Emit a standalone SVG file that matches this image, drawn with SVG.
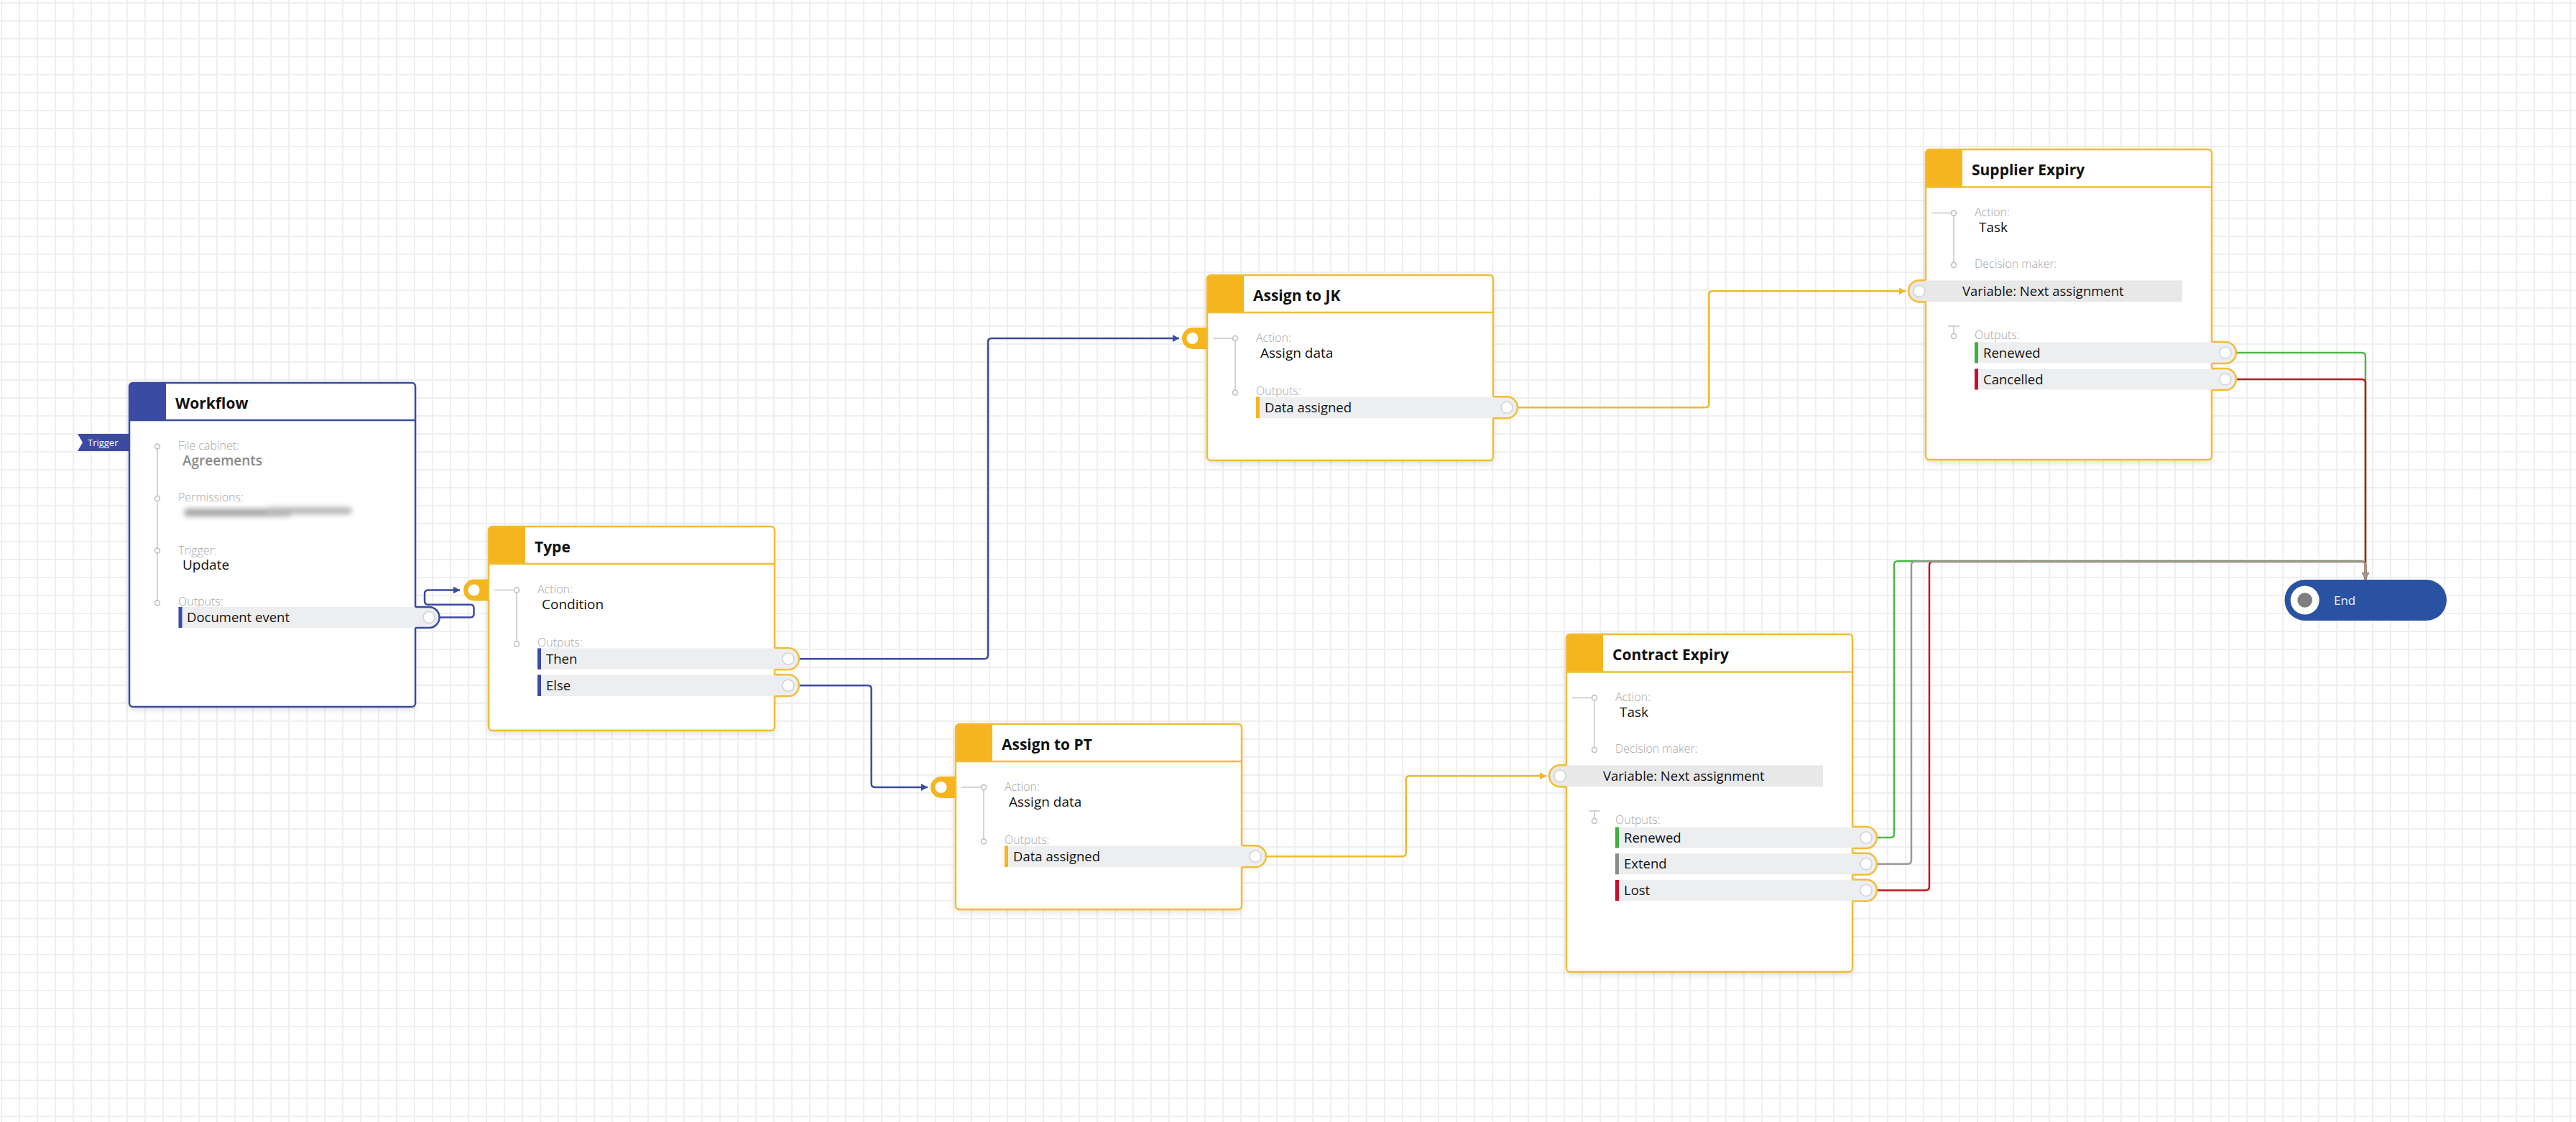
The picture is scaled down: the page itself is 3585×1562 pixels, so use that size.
<svg xmlns="http://www.w3.org/2000/svg" width="3585" height="1562" viewBox="0 0 3585 1562">
<defs>
<pattern id="grid" x="1" y="3" width="25" height="25" patternUnits="userSpaceOnUse">
<path d="M0 1H25M1 0V25" fill="none" stroke="#efefef" stroke-width="2"/>
</pattern>
<filter id="sh" x="-10%" y="-10%" width="120%" height="125%"><feDropShadow dx="0" dy="4" stdDeviation="5" flood-color="#000" flood-opacity="0.12"/></filter>
<filter id="blur" x="-20%" y="-200%" width="140%" height="500%"><feGaussianBlur stdDeviation="3.5"/></filter>
<marker id="ab" viewBox="0 0 10 10" refX="10" refY="5" markerWidth="10" markerHeight="10" markerUnits="userSpaceOnUse" orient="auto"><path d="M1,0L10,5L1,10z" fill="#3b4a9f"/></marker>
<marker id="ay" viewBox="0 0 10 10" refX="10" refY="5" markerWidth="10" markerHeight="10" markerUnits="userSpaceOnUse" orient="auto"><path d="M1,0L10,5L1,10z" fill="#f0b82d"/></marker>
<marker id="ag" viewBox="0 0 10 10" refX="10" refY="5" markerWidth="10" markerHeight="10" markerUnits="userSpaceOnUse" orient="auto"><path d="M1,0L10,5L1,10z" fill="#4cb847"/></marker>
<marker id="ar" viewBox="0 0 10 10" refX="10" refY="5" markerWidth="10" markerHeight="10" markerUnits="userSpaceOnUse" orient="auto"><path d="M1,0L10,5L1,10z" fill="#c4161c"/></marker>
<marker id="aq" viewBox="0 0 10 10" refX="10" refY="5" markerWidth="10" markerHeight="10" markerUnits="userSpaceOnUse" orient="auto"><path d="M1,0L10,5L1,10z" fill="#999999"/></marker>
</defs>
<style>
text{font-family:"Open Sans","Noto Sans","DejaVu Sans",sans-serif}
.title{font-size:21px;font-weight:700;fill:#111}
.lbl{font-size:16px;font-weight:300;fill:#a6a6a6}
.val{font-size:19px;font-weight:500;fill:#111}
.rowt{font-size:18.5px;font-weight:500;fill:#111}
.bg{fill:#fff}
.by{fill:none;stroke:#f2bd36;stroke-width:2.5}
.bb{fill:none;stroke:#3b4ba3;stroke-width:2.5}
.hy{fill:#f4b51f}
.hb{fill:#3b4ba3}
.row{fill:#eceef0}
.vrow{fill:#e8e8e8}
.tl{fill:none;stroke:#c6c6c6;stroke-width:1.5}
.tc{fill:#fff;stroke:#bdbdbd;stroke-width:1.5}
.port{fill:#fff;stroke:#cfd3d8;stroke-width:1.5}
.tab{fill:#f4b51f}
.tabc{fill:#fff}
.c{fill:none;stroke-width:2.5}
.cb{stroke:#3b4a9f}
.cy{stroke:#f0b82d}
.cg{stroke:#4cb847}
.cr{stroke:#c4161c}
.cq{stroke:#999999}
</style>
<rect width="3585" height="1562" fill="#fff"/>
<rect width="3585" height="1562" fill="url(#grid)"/>

<g id="connectors">
<path class="c cb" marker-end="url(#ab)" d="M612,859.5H654.5Q659.5,859.5 659.5,854.5V846.7Q659.5,841.7 654.5,841.7H596Q591,841.7 591,836.7V826.5Q591,821.5 596,821.5H640"/>
<path class="c cb" marker-end="url(#ab)" d="M1112,917.25H1370Q1375,917.25 1375,912.25V476Q1375,471 1380,471H1641"/>
<path class="c cb" marker-end="url(#ab)" d="M1112,954.25H1207.7Q1212.7,954.25 1212.7,959.25V1091Q1212.7,1096 1217.7,1096H1291"/>
<path class="c cy" marker-end="url(#ay)" d="M2112,567.25H2373.3Q2378.3,567.25 2378.3,562.25V410.25Q2378.3,405.25 2383.3,405.25H2652"/>
<path class="c cy" marker-end="url(#ay)" d="M1762,1192.25H1951.8Q1956.8,1192.25 1956.8,1187.25V1085.25Q1956.8,1080.25 1961.8,1080.25H2152"/>
<path class="c cg" marker-end="url(#ag)" d="M3112,491H3287Q3292,491 3292,496V806.5"/>
<path class="c cg" marker-end="url(#ag)" d="M2612,1166H2631Q2636,1166 2636,1161V786.2Q2636,781.2 2641,781.2H3287Q3292,781.2 3292,786.2V806.5"/>
<path class="c cr" marker-end="url(#ar)" d="M3112,528H3287Q3292,528 3292,533V806.5"/>
<path class="c cr" marker-end="url(#ar)" d="M2612,1239.5H2680Q2685,1239.5 2685,1234.5V787Q2685,782 2690,782H3287Q3292,782 3292,787V806.5"/>
<path class="c cq" marker-end="url(#aq)" d="M2612,1202.75H2655Q2660,1202.75 2660,1197.75V786.7Q2660,781.7 2665,781.7H3287Q3292,781.7 3292,786.7V806.5"/>
</g>

<g id="node-workflow">
<rect class="bg" x="180" y="533" width="398" height="451" rx="5" filter="url(#sh)"/>
<path class="hb" d="M180,538Q180,533 185,533H231V585H180Z"/>
<line x1="180" y1="585" x2="578" y2="585" stroke="#3b4ba3" stroke-width="2.5"/>
<rect class="bb" x="180" y="533" width="398" height="451" rx="5"/>
<text class="title" x="244" y="569">Workflow</text>
<polygon class="hb" points="108,604 180,604 180,628 108,628 115,616"/>
<text x="122" y="621" font-size="13" fill="#fff">Trigger</text>
<line class="tl" x1="219" y1="621.5" x2="219" y2="839.5"/>
<circle class="tc" cx="219" cy="621.5" r="3.5"/>
<circle class="tc" cx="219" cy="694" r="3.5"/>
<circle class="tc" cx="219" cy="766.5" r="3.5"/>
<circle class="tc" cx="219" cy="839.5" r="3.5"/>
<text class="lbl" x="248" y="626">File cabinet:</text>
<text class="val" x="254" y="648" style="fill:#8a8a8a;font-weight:600">Agreements</text>
<text class="lbl" x="248" y="698">Permissions:</text>
<g filter="url(#blur)"><rect x="256" y="708" width="150" height="11" rx="5" fill="#a8a8a8"/><rect x="370" y="706" width="120" height="10" rx="5" fill="#b8b8b8"/></g>
<text class="lbl" x="248" y="771.5">Trigger:</text>
<text class="val" x="254" y="793">Update</text>
<text class="lbl" x="248" y="842.5">Outputs:</text>
<rect class="row" x="248.5" y="845" width="330" height="29"/>
<rect class="hb" x="248.5" y="845" width="5" height="29"/>
<text class="rowt" x="260" y="866">Document event</text>
<path class="row" d="M576,845H597A14.5,14.5 0 0 1 597,874H576Z"/>
<path class="bb" d="M578,845H597A14.5,14.5 0 0 1 597,874H578"/>
<circle class="port" cx="597" cy="859.5" r="8"/>
</g>

<g id="node-type">
<rect class="bg" x="680" y="733" width="398" height="284" rx="5" filter="url(#sh)"/>
<path class="tab" d="M681,806.5H660A15,15 0 0 0 660,836.5H681Z"/>
<circle class="tabc" cx="659.5" cy="821.5" r="8"/>
<path class="hy" d="M680,738Q680,733 685,733H731V785H680Z"/>
<line x1="680" y1="785" x2="1078" y2="785" stroke="#f2bd36" stroke-width="2.5"/>
<rect class="by" x="680" y="733" width="398" height="284" rx="5"/>
<text class="title" x="744" y="769">Type</text>
<path class="tl" d="M688,821.5H719V896.5"/>
<circle class="tc" cx="719" cy="821.5" r="3.5"/>
<circle class="tc" cx="719" cy="896.5" r="3.5"/>
<text class="lbl" x="748" y="826">Action:</text>
<text class="val" x="754" y="848">Condition</text>
<text class="lbl" x="748" y="900">Outputs:</text>
<rect class="row" x="748" y="902.5" width="330" height="29.5"/>
<rect class="hb" x="748" y="902.5" width="5" height="29.5"/>
<text class="rowt" x="760" y="923.75">Then</text>
<path class="row" d="M1076,902.25H1097A15,15 0 0 1 1097,932.25H1076Z"/>
<path class="by" d="M1078,902.25H1097A15,15 0 0 1 1097,932.25H1078"/>
<circle class="port" cx="1097" cy="917.25" r="8"/>
<rect class="row" x="748" y="939.5" width="330" height="29.5"/>
<rect class="hb" x="748" y="939.5" width="5" height="29.5"/>
<text class="rowt" x="760" y="960.75">Else</text>
<path class="row" d="M1076,939.25H1097A15,15 0 0 1 1097,969.25H1076Z"/>
<path class="by" d="M1078,939.25H1097A15,15 0 0 1 1097,969.25H1078"/>
<circle class="port" cx="1097" cy="954.25" r="8"/>
</g>

<g id="node-assign-jk">
<rect class="bg" x="1680" y="383" width="398" height="258" rx="5" filter="url(#sh)"/>
<path class="tab" d="M1681,456H1660A15,15 0 0 0 1660,486H1681Z"/>
<circle class="tabc" cx="1659.5" cy="471" r="8"/>
<path class="hy" d="M1680,388Q1680,383 1685,383H1731V435H1680Z"/>
<line x1="1680" y1="435" x2="2078" y2="435" stroke="#f2bd36" stroke-width="2.5"/>
<rect class="by" x="1680" y="383" width="398" height="258" rx="5"/>
<text class="title" x="1744" y="419">Assign to JK</text>
<path class="tl" d="M1688,471H1719V546.5"/>
<circle class="tc" cx="1719" cy="471" r="3.5"/>
<circle class="tc" cx="1719" cy="546.5" r="3.5"/>
<text class="lbl" x="1748" y="476">Action:</text>
<text class="val" x="1754" y="498">Assign data</text>
<text class="lbl" x="1748" y="550">Outputs:</text>
<rect class="row" x="1748" y="552.5" width="330" height="29.5"/>
<rect class="hy" x="1748" y="552.5" width="5" height="29.5"/>
<text class="rowt" x="1760" y="573.75">Data assigned</text>
<path class="row" d="M2076,552.25H2097A15,15 0 0 1 2097,582.25H2076Z"/>
<path class="by" d="M2078,552.25H2097A15,15 0 0 1 2097,582.25H2078"/>
<circle class="port" cx="2097" cy="567.25" r="8"/>
</g>

<g id="node-assign-pt">
<rect class="bg" x="1330" y="1008" width="398" height="258" rx="5" filter="url(#sh)"/>
<path class="tab" d="M1331,1081H1310A15,15 0 0 0 1310,1111H1331Z"/>
<circle class="tabc" cx="1309.5" cy="1096" r="8"/>
<path class="hy" d="M1330,1013Q1330,1008 1335,1008H1381V1060H1330Z"/>
<line x1="1330" y1="1060" x2="1728" y2="1060" stroke="#f2bd36" stroke-width="2.5"/>
<rect class="by" x="1330" y="1008" width="398" height="258" rx="5"/>
<text class="title" x="1394" y="1044">Assign to PT</text>
<path class="tl" d="M1338,1096H1369V1171.5"/>
<circle class="tc" cx="1369" cy="1096" r="3.5"/>
<circle class="tc" cx="1369" cy="1171.5" r="3.5"/>
<text class="lbl" x="1398" y="1101">Action:</text>
<text class="val" x="1404" y="1123">Assign data</text>
<text class="lbl" x="1398" y="1175">Outputs:</text>
<rect class="row" x="1398" y="1177.5" width="330" height="29.5"/>
<rect class="hy" x="1398" y="1177.5" width="5" height="29.5"/>
<text class="rowt" x="1410" y="1198.75">Data assigned</text>
<path class="row" d="M1726,1177.25H1747A15,15 0 0 1 1747,1207.25H1726Z"/>
<path class="by" d="M1728,1177.25H1747A15,15 0 0 1 1747,1207.25H1728"/>
<circle class="port" cx="1747" cy="1192.25" r="8"/>
</g>

<g id="node-supplier-expiry">
<rect class="bg" x="2680" y="208" width="398" height="432" rx="5" filter="url(#sh)"/>
<path class="hy" d="M2680,213Q2680,208 2685,208H2731V260.5H2680Z"/>
<line x1="2680" y1="260.5" x2="3078" y2="260.5" stroke="#f2bd36" stroke-width="2.5"/>
<rect class="by" x="2680" y="208" width="398" height="432" rx="5"/>
<text class="title" x="2744" y="243.5">Supplier Expiry</text>
<path class="tl" d="M2688,296.5H2719V369"/>
<circle class="tc" cx="2719" cy="296.5" r="3.5"/>
<circle class="tc" cx="2719" cy="369" r="3.5"/>
<text class="lbl" x="2748" y="301">Action:</text>
<text class="val" x="2754" y="323">Task</text>
<text class="lbl" x="2748" y="372.5">Decision maker:</text>
<rect class="vrow" x="2678.5" y="390.5" width="358.5" height="29.5"/>
<path class="vrow" d="M2682,390.25H2671A15,15 0 0 0 2671,420.25H2682Z"/>
<path class="by" d="M2680,390.25H2671A15,15 0 0 0 2671,420.25H2680"/>
<circle class="port" cx="2671" cy="405.25" r="8"/>
<text class="rowt" x="2731" y="411.5">Variable: Next assignment</text>
<path class="tl" d="M2711,454H2727M2719,454V464.5"/>
<circle class="tc" cx="2719" cy="468" r="3.5"/>
<text class="lbl" x="2748" y="471.5">Outputs:</text>
<rect class="row" x="2748" y="476.5" width="330" height="29"/>
<rect fill="#3db03d" x="2748" y="476.5" width="5" height="29"/>
<text class="rowt" x="2760" y="497.5">Renewed</text>
<path class="row" d="M3076,476H3097A15,15 0 0 1 3097,506H3076Z"/>
<path class="by" d="M3078,476H3097A15,15 0 0 1 3097,506H3078"/>
<circle class="port" cx="3097" cy="491" r="8"/>
<rect class="row" x="2748" y="513.5" width="330" height="29"/>
<rect fill="#c8102e" x="2748" y="513.5" width="5" height="29"/>
<text class="rowt" x="2760" y="534.5">Cancelled</text>
<path class="row" d="M3076,513H3097A15,15 0 0 1 3097,543H3076Z"/>
<path class="by" d="M3078,513H3097A15,15 0 0 1 3097,543H3078"/>
<circle class="port" cx="3097" cy="528" r="8"/>
</g>

<g id="node-contract-expiry">
<rect class="bg" x="2180" y="883" width="398" height="470" rx="5" filter="url(#sh)"/>
<path class="hy" d="M2180,888Q2180,883 2185,883H2231V935.5H2180Z"/>
<line x1="2180" y1="935.5" x2="2578" y2="935.5" stroke="#f2bd36" stroke-width="2.5"/>
<rect class="by" x="2180" y="883" width="398" height="470" rx="5"/>
<text class="title" x="2244" y="918.5">Contract Expiry</text>
<path class="tl" d="M2188,971.5H2219V1044"/>
<circle class="tc" cx="2219" cy="971.5" r="3.5"/>
<circle class="tc" cx="2219" cy="1044" r="3.5"/>
<text class="lbl" x="2248" y="976">Action:</text>
<text class="val" x="2254" y="998">Task</text>
<text class="lbl" x="2248" y="1047.5">Decision maker:</text>
<rect class="vrow" x="2178.5" y="1065.5" width="358.5" height="29.5"/>
<path class="vrow" d="M2182,1065.25H2171A15,15 0 0 0 2171,1095.25H2182Z"/>
<path class="by" d="M2180,1065.25H2171A15,15 0 0 0 2171,1095.25H2180"/>
<circle class="port" cx="2171" cy="1080.25" r="8"/>
<text class="rowt" x="2231" y="1086.5">Variable: Next assignment</text>
<path class="tl" d="M2211,1129H2227M2219,1129V1139.5"/>
<circle class="tc" cx="2219" cy="1143" r="3.5"/>
<text class="lbl" x="2248" y="1146.5">Outputs:</text>
<rect class="row" x="2248" y="1151.5" width="330" height="29"/>
<rect fill="#3db03d" x="2248" y="1151.5" width="5" height="29"/>
<text class="rowt" x="2260" y="1172.5">Renewed</text>
<path class="row" d="M2576,1151H2597A15,15 0 0 1 2597,1181H2576Z"/>
<path class="by" d="M2578,1151H2597A15,15 0 0 1 2597,1181H2578"/>
<circle class="port" cx="2597" cy="1166" r="8"/>
<rect class="row" x="2248" y="1188.25" width="330" height="29"/>
<rect fill="#8c8c8c" x="2248" y="1188.25" width="5" height="29"/>
<text class="rowt" x="2260" y="1209.25">Extend</text>
<path class="row" d="M2576,1187.75H2597A15,15 0 0 1 2597,1217.75H2576Z"/>
<path class="by" d="M2578,1187.75H2597A15,15 0 0 1 2597,1217.75H2578"/>
<circle class="port" cx="2597" cy="1202.75" r="8"/>
<rect class="row" x="2248" y="1225" width="330" height="29"/>
<rect fill="#c8102e" x="2248" y="1225" width="5" height="29"/>
<text class="rowt" x="2260" y="1246">Lost</text>
<path class="row" d="M2576,1224.5H2597A15,15 0 0 1 2597,1254.5H2576Z"/>
<path class="by" d="M2578,1224.5H2597A15,15 0 0 1 2597,1254.5H2578"/>
<circle class="port" cx="2597" cy="1239.5" r="8"/>
</g>

<g id="node-end">
<rect x="3179.5" y="807" width="225.5" height="57" rx="28.5" fill="#2a52a3"/>
<circle cx="3207.7" cy="835.5" r="20" fill="#fff"/>
<circle cx="3207.7" cy="835.5" r="10.3" fill="#7f7f7f"/>
<text x="3248" y="841.5" font-size="17" fill="#eef3ff">End</text>
</g>
</svg>
